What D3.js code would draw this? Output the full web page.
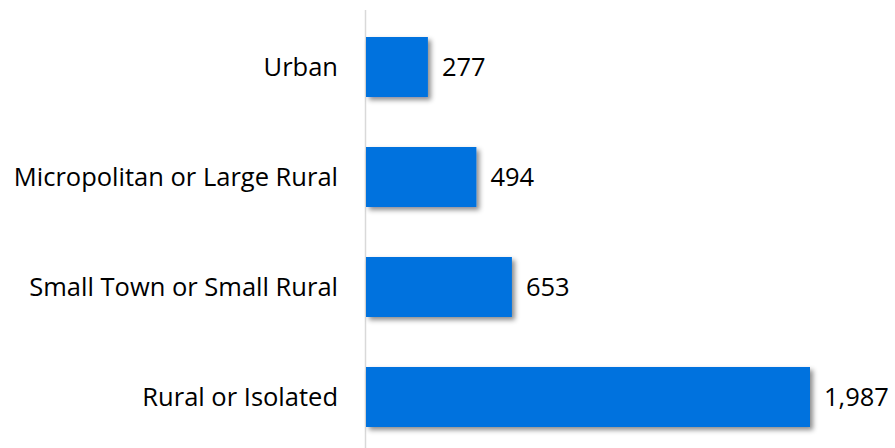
<!DOCTYPE html>
<html>
<head>
<meta charset="utf-8">
<script src="https://cdn.jsdelivr.net/npm/d3@7"></script>
<style>
  body { margin: 0; background: #fff; }
  text { font-family: "Open Sans", Lato, sans-serif; }
</style>
</head>
<body>
<div id="container"></div>
<script>
// categories and values
var categories = ["Urban", "Micropolitan or Large Rural", "Small Town or Small Rural", "Rural or Isolated"];
var values = [277, 494, 653, 1987];

var width = 895, height = 448;
var margin = {left: 366, right: 85};

var svg = d3.select("#container")
  .append("svg")
    .attr("width", width)
    .attr("height", height);

// drop shadow like the office chart
var defs = svg.append("defs");
defs.append("filter")
    .attr("id", "shadow")
    .attr("x", "-10%").attr("y", "-10%")
    .attr("width", "130%").attr("height", "140%")
  .append("feDropShadow")
    .attr("dx", 3)
    .attr("dy", 3)
    .attr("stdDeviation", 2.5)
    .attr("flood-color", "#000")
    .attr("flood-opacity", 0.45);

var x = d3.scaleLinear()
  .domain([0, 1987])
  .range([margin.left, width - margin.right]);

var y = d3.scaleBand()
  .domain(categories)
  .range([12, 452])
  .paddingInner(0.4545)
  .paddingOuter(0.2273);

// axis line
svg.append("line")
  .attr("x1", 365.5).attr("x2", 365.5)
  .attr("y1", 10).attr("y2", height)
  .attr("stroke", "#d9d9d9")
  .attr("stroke-width", 1.5);

// bars
svg.selectAll("rect.bar")
  .data(values)
  .enter()
  .append("rect")
    .attr("class", "bar")
    .attr("x", x(0))
    .attr("y", function(d, i) { return y(categories[i]); })
    .attr("width", function(d) { return x(d) - x(0); })
    .attr("height", y.bandwidth())
    .attr("fill", "#0072de")
    .attr("filter", "url(#shadow)");

// category labels
svg.selectAll("text.cat")
  .data(categories)
  .enter()
  .append("text")
    .attr("class", "cat")
    .attr("x", 338)
    .attr("y", function(d) { return y(d) + y.bandwidth() / 2; })
    .attr("dy", "0.35em")
    .attr("text-anchor", "end")
    .attr("font-size", "25.5px")
    .attr("fill", "#000")
    .text(function(d) { return d; });

// value labels
svg.selectAll("text.val")
  .data(values)
  .enter()
  .append("text")
    .attr("class", "val")
    .attr("x", function(d) { return x(d) + 14; })
    .attr("y", function(d, i) { return y(categories[i]) + y.bandwidth() / 2; })
    .attr("dy", "0.35em")
    .attr("font-size", "25.5px")
    .attr("fill", "#000")
    .text(function(d) { return d3.format(",")(d); });
</script>
</body>
</html>
